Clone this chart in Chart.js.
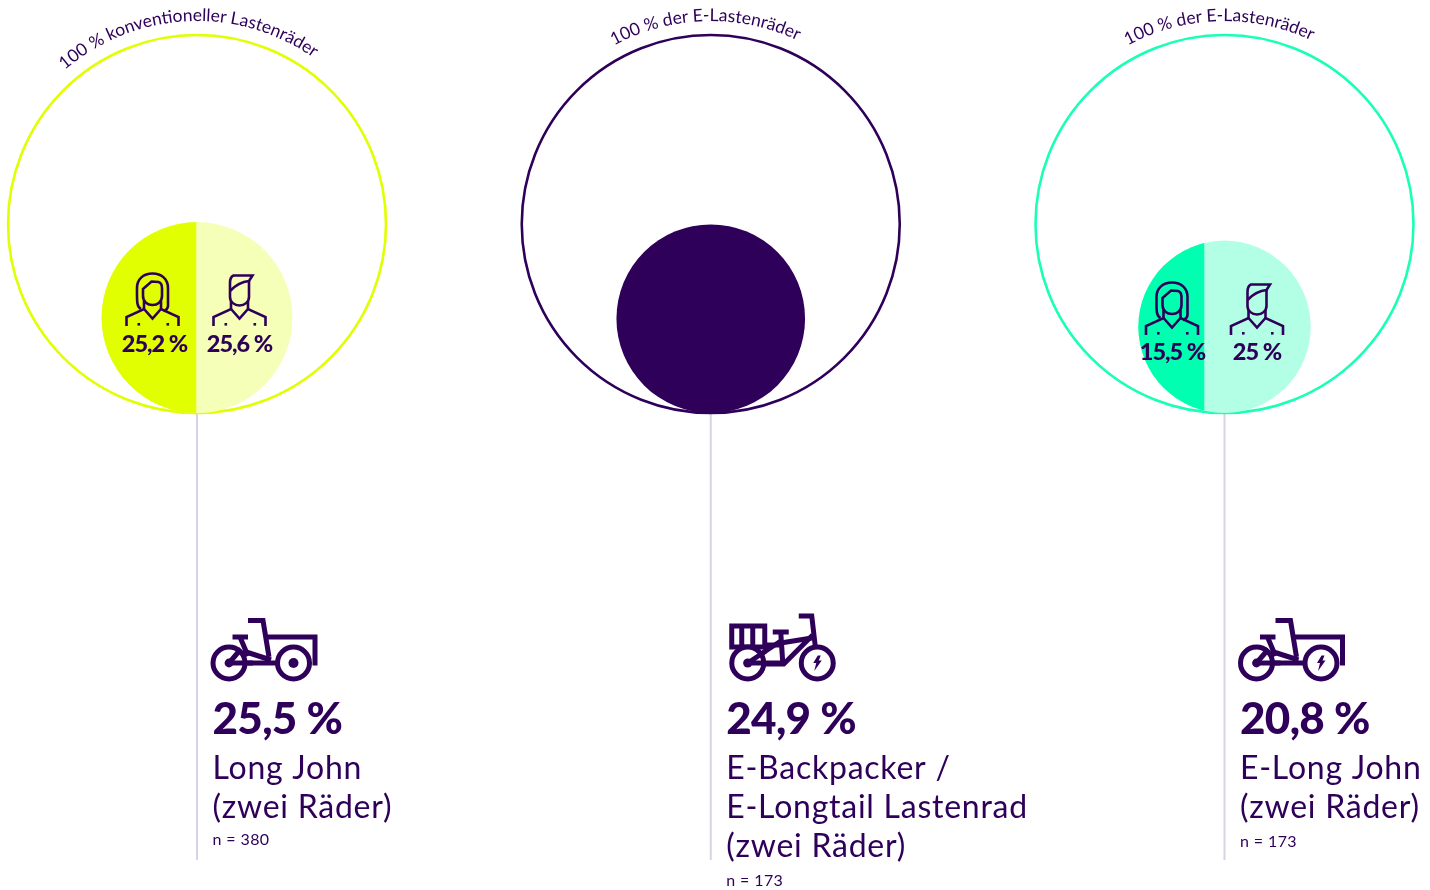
<!DOCTYPE html>
<html lang="de">
<head>
<meta charset="utf-8">
<title>Lastenräder</title>
<style>
  html, body { margin: 0; padding: 0; background: #fff; overflow: hidden; }
  #stage { position: relative; width: 1430px; height: 890px; }
  canvas, svg { position: absolute; left: 0; top: 0; }
</style>
<script src="https://cdn.jsdelivr.net/npm/chart.js@4/dist/chart.umd.min.js"></script>
</head>
<body>
<div id="stage">
  <canvas id="chart" width="1430" height="890"></canvas>
  <svg id="arcs" width="1430" height="890" xmlns="http://www.w3.org/2000/svg"></svg>
</div>
<script>
// Chart values
const columnTitles = [
  ['Long John', '(zwei Räder)'],
  ['E-Backpacker /', 'E-Longtail Lastenrad', '(zwei Räder)'],
  ['E-Long John', '(zwei Räder)']
];
const arcLabels = ['100 % konventioneller Lastenräder', '100 % der E-Lastenräder', '100 % der E-Lastenräder'];
const shareValues = [25.5, 24.9, 20.8];
const shareLabels = ['25,5 %', '24,9 %', '20,8 %'];
const sampleLabels = ['n = 380', 'n = 173', 'n = 173'];
const womenValues = [25.2, null, 15.5];
const menValues = [25.6, null, 25];
const womenLabels = ['25,2 %', null, '15,5 %'];
const menLabels = ['25,6 %', null, '25 %'];

// Palette per column
const ringColors = ['#e1ff00', '#2e0059', '#1affb6'];
const strongFill = ['#e1ff00', '#2e0059', '#00ffb0'];
const softFill = ['#f5ffb8', '#2e0059', '#b3ffe6'];
const INK = '#2e0059';
const LEADER = '#d6d2e8';
const FONT = 'Lato, sans-serif';

// Layout: one y unit equals the radius of a 100 % ring
const RING_PX = 189;
const COLUMN_GAP = 513.75;
const FIRST_X = 197;
const CENTER_Y = 224;
const LEADER_END = -(860 - 224) / RING_PX;
const sampleNudge = [0, 2, 2];

const radiusFor = share => RING_PX * Math.sqrt(share / 100);

const rings = shareValues.map((_, i) => ({ x: i, y: 0, r: RING_PX }));
const discs = shareValues.map((s, i) => ({ x: i, y: -(1 - Math.sqrt(s / 100)), r: radiusFor(s) }));
const leaders = shareValues.map((_, i) => ({
  type: 'line',
  order: 3,
  data: [{ x: i, y: -1 }, { x: i, y: LEADER_END }],
  borderColor: LEADER,
  borderWidth: 2,
  pointRadius: 0,
  fill: false
}));

// Icon outlines, in local pixels from an anchor point
function poly(ctx, pts, close) {
  ctx.beginPath();
  pts.forEach((p, i) => (i ? ctx.lineTo(p[0], p[1]) : ctx.moveTo(p[0], p[1])));
  if (close) ctx.closePath();
  ctx.stroke();
}

function torso(ctx) {
  poly(ctx, [[-26, 0], [-26, -9], [-8.5, -17], [0, -7.5], [8.5, -17], [26, -9], [26, 0]]);
  poly(ctx, [[-8.5, -17], [-8.5, -25]]);
  poly(ctx, [[8.5, -17], [8.5, -25]]);
  ctx.fillRect(-15, -3, 2.6, 2.6);
  ctx.fillRect(14, -3, 2.6, 2.6);
}

function drawWoman(ctx, x, y) {
  ctx.save();
  ctx.translate(x, y);
  ctx.strokeStyle = INK; ctx.fillStyle = INK; ctx.lineWidth = 2.6;
  torso(ctx);
  ctx.beginPath();
  ctx.moveTo(-11.5, -17);
  ctx.bezierCurveTo(-16, -19, -15.5, -25, -15.5, -38);
  ctx.bezierCurveTo(-15.5, -47, -9, -52.5, 0, -52.5);
  ctx.bezierCurveTo(9, -52.5, 15.5, -47, 15.5, -38);
  ctx.lineTo(15.5, -20);
  ctx.quadraticCurveTo(15, -16, 11, -15);
  ctx.stroke();
  ctx.beginPath();
  ctx.moveTo(-9.5, -37);
  ctx.lineTo(-1, -44.5);
  ctx.lineTo(6, -44);
  ctx.quadraticCurveTo(9.5, -43, 9.5, -38);
  ctx.lineTo(9.5, -30);
  ctx.bezierCurveTo(9.5, -24, 5, -21, 0, -21);
  ctx.bezierCurveTo(-5, -21, -9.5, -24, -9.5, -30);
  ctx.closePath();
  ctx.stroke();
  ctx.restore();
}

function drawMan(ctx, x, y) {
  ctx.save();
  ctx.translate(x, y);
  ctx.strokeStyle = INK; ctx.fillStyle = INK; ctx.lineWidth = 2.6;
  torso(ctx);
  ctx.beginPath();
  ctx.moveTo(-9.5, -35);
  ctx.lineTo(-9.5, -29);
  ctx.bezierCurveTo(-9.5, -24, -5, -20.5, 0, -20.5);
  ctx.bezierCurveTo(5, -20.5, 9.5, -24, 9.5, -29);
  ctx.lineTo(9.5, -45);
  ctx.stroke();
  ctx.beginPath();
  ctx.moveTo(-9.5, -35);
  ctx.lineTo(-9.5, -43);
  ctx.quadraticCurveTo(-9.5, -49, -6, -50.5);
  ctx.lineTo(13, -50.5);
  ctx.lineTo(9.5, -45);
  ctx.quadraticCurveTo(-1, -44, -9.5, -35);
  ctx.stroke();
  ctx.restore();
}

function wheel(ctx, x, y) {
  ctx.beginPath();
  ctx.arc(x, y, 16, 0, Math.PI * 2);
  ctx.fillStyle = '#fff';
  ctx.fill();
  ctx.stroke();
}

function hub(ctx, x, y, r) {
  ctx.beginPath();
  ctx.arc(x, y, r, 0, Math.PI * 2);
  ctx.fillStyle = INK;
  ctx.fill();
}

function bolt(ctx, x, y) {
  ctx.beginPath();
  [[0.5, -7.5], [3.5, -7.5], [1.5, -2.5], [4.5, -2.5], [-3, 8], [-1, 0], [-4, 0]].forEach((p, i) =>
    i ? ctx.lineTo(x + p[0], y + p[1]) : ctx.moveTo(x + p[0], y + p[1]));
  ctx.closePath();
  ctx.fillStyle = INK;
  ctx.fill();
}

// Anchor is the rear axle of the cargo bike with the front box
function drawLongJohn(ctx, ax, ay, electric) {
  ctx.save();
  ctx.translate(ax, ay);
  ctx.strokeStyle = INK; ctx.lineWidth = 5;
  poly(ctx, [[19, -42.5], [34, -42.5], [40, -6]]);
  poly(ctx, [[37, -26], [86, -26], [86, 2.5]]);
  poly(ctx, [[3.5, -26], [19, -26]]);
  poly(ctx, [[11, -26], [19, -7]]);
  poly(ctx, [[14, -12], [42, -3]]);
  poly(ctx, [[0, 0], [50, 0]]);
  wheel(ctx, 64.5, 0);
  wheel(ctx, 0, 0);
  poly(ctx, [[0, 0], [12, -14]]);
  poly(ctx, [[0, 0], [24, 0]]);
  hub(ctx, 0, 0, 4.4);
  if (electric) bolt(ctx, 64.5, 0); else hub(ctx, 64.5, 0, 5);
  ctx.restore();
}

// Anchor is the rear axle of the long-tail bike with its crate
function drawBackpacker(ctx, ax, ay) {
  ctx.save();
  ctx.translate(ax, ay);
  ctx.strokeStyle = INK; ctx.lineWidth = 5;
  ctx.strokeRect(-16, -37, 33, 21);
  poly(ctx, [[-6, -37], [-6, -16]]);
  poly(ctx, [[5, -37], [5, -16]]);
  poly(ctx, [[16, -18], [33, -18]]);
  poly(ctx, [[25, -31], [41, -31]]);
  poly(ctx, [[33, -31], [35, 0]]);
  poly(ctx, [[0, 0], [33, -22]]);
  poly(ctx, [[33, -20], [64, -25]]);
  poly(ctx, [[65, -28], [36, 1], [0, 1]]);
  poly(ctx, [[51, -47], [64, -47], [69, -4]]);
  wheel(ctx, 0, 0);
  wheel(ctx, 69.5, 0);
  poly(ctx, [[0, 0], [34, 0]]);
  poly(ctx, [[0, 0], [18, -12]]);
  hub(ctx, 0, 0, 4.6);
  bolt(ctx, 69.5, 0);
  ctx.restore();
}

// Canvas text and pictograms laid over the bubbles
const annotations = {
  id: 'annotations',
  afterDatasetsDraw(chart) {
    const { ctx, scales: { x: sx } } = chart;
    const meta = chart.getDatasetMeta(1);
    ctx.save();
    ctx.textBaseline = 'alphabetic';

    shareValues.forEach((share, i) => {
      const disc = meta.data[i];
      const cx = disc.x, cy = disc.y, r = disc.options.radius;
      if (womenValues[i] !== null) {
        const f = womenValues[i] / (womenValues[i] + menValues[i]);
        const splitX = cx - r + 2 * r * f;
        ctx.save();
        ctx.beginPath();
        ctx.rect(cx - r - 1, cy - r - 1, splitX - (cx - r - 1), 2 * r + 2);
        ctx.clip();
        ctx.beginPath();
        ctx.arc(cx, cy, r, 0, Math.PI * 2);
        ctx.fillStyle = strongFill[i];
        ctx.fill();
        ctx.restore();

        const icons = i === 0 ? [152.5, 239.5, 326, 352, 154.5] : [1172, 1257, 335, 360, 1172.5];
        drawWoman(ctx, icons[0], icons[2]);
        drawMan(ctx, icons[1], icons[2]);
        ctx.fillStyle = INK;
        ctx.font = '900 23.5px ' + FONT;
        ctx.letterSpacing = '-1px';
        ctx.textAlign = 'center';
        ctx.fillText(womenLabels[i], icons[4], icons[3]);
        ctx.fillText(menLabels[i], icons[1], icons[3]);
      }

      const left = sx.getPixelForValue(i) + 15.5;
      ctx.fillStyle = INK;
      ctx.textAlign = 'left';
      ctx.font = '900 44px ' + FONT;
      ctx.letterSpacing = '-0.7px';
      ctx.fillText(shareLabels[i], left, 734);
      ctx.font = '400 32px ' + FONT;
      ctx.letterSpacing = '0.75px';
      columnTitles[i].forEach((line, k) => ctx.fillText(line, left, 778.5 + 39 * k));
      ctx.font = '400 16px ' + FONT;
      ctx.letterSpacing = '0.4px';
      ctx.fillText(sampleLabels[i], left, 778 + 39 * columnTitles[i].length - 11 + sampleNudge[i]);
      ctx.letterSpacing = '0px';
    });

    drawLongJohn(ctx, sx.getPixelForValue(0) + 32, 663, false);
    drawBackpacker(ctx, sx.getPixelForValue(1) + 37, 663);
    drawLongJohn(ctx, sx.getPixelForValue(2) + 32, 663, true);
    ctx.restore();
  }
};

const chart = new Chart(document.getElementById('chart'), {
  type: 'bubble',
  data: {
    datasets: [
      {
        order: 2,
        data: rings,
        backgroundColor: 'rgba(255,255,255,0)',
        borderColor: ringColors,
        borderWidth: 2.6,
        clip: false
      },
      {
        order: 1,
        data: discs,
        backgroundColor: softFill,
        borderWidth: 0,
        clip: false
      },
      ...leaders
    ]
  },
  options: {
    responsive: false,
    animation: false,
    events: [],
    layout: { padding: 0, autoPadding: false },
    plugins: { legend: { display: false }, tooltip: { enabled: false } },
    scales: {
      x: { type: 'linear', display: false, min: -FIRST_X / COLUMN_GAP, max: (1430 - FIRST_X) / COLUMN_GAP },
      y: { type: 'linear', display: false, min: (CENTER_Y - 890) / RING_PX, max: CENTER_Y / RING_PX }
    }
  },
  plugins: [annotations]
});

// Curved captions following each ring
const svg = document.getElementById('arcs');
const NS = 'http://www.w3.org/2000/svg';
const arcShift = [-10, -5.5, -5.5];
const ARC_R = RING_PX + 14;
arcLabels.forEach((label, i) => {
  const cx = chart.scales.x.getPixelForValue(i);
  const cy = chart.scales.y.getPixelForValue(0);
  const path = document.createElementNS(NS, 'path');
  const mid = Math.asin(arcShift[i] / ARC_R);
  const a0 = mid - 1.2, a1 = mid + 1.2;
  path.setAttribute('id', 'arc' + i);
  path.setAttribute('fill', 'none');
  path.setAttribute('d',
    `M ${cx + ARC_R * Math.sin(a0)} ${cy - ARC_R * Math.cos(a0)} A ${ARC_R} ${ARC_R} 0 0 1 ${cx + ARC_R * Math.sin(a1)} ${cy - ARC_R * Math.cos(a1)}`);
  svg.appendChild(path);
  const text = document.createElementNS(NS, 'text');
  text.setAttribute('fill', INK);
  text.setAttribute('font-family', 'Lato, sans-serif');
  text.setAttribute('font-size', '17.5');
  text.setAttribute('text-anchor', 'middle');
  const tp = document.createElementNS(NS, 'textPath');
  tp.setAttributeNS('http://www.w3.org/1999/xlink', 'href', '#arc' + i);
  tp.setAttribute('href', '#arc' + i);
  tp.setAttribute('startOffset', '50%');
  tp.textContent = label;
  text.appendChild(tp);
  svg.appendChild(text);
});
</script>
</body>
</html>
